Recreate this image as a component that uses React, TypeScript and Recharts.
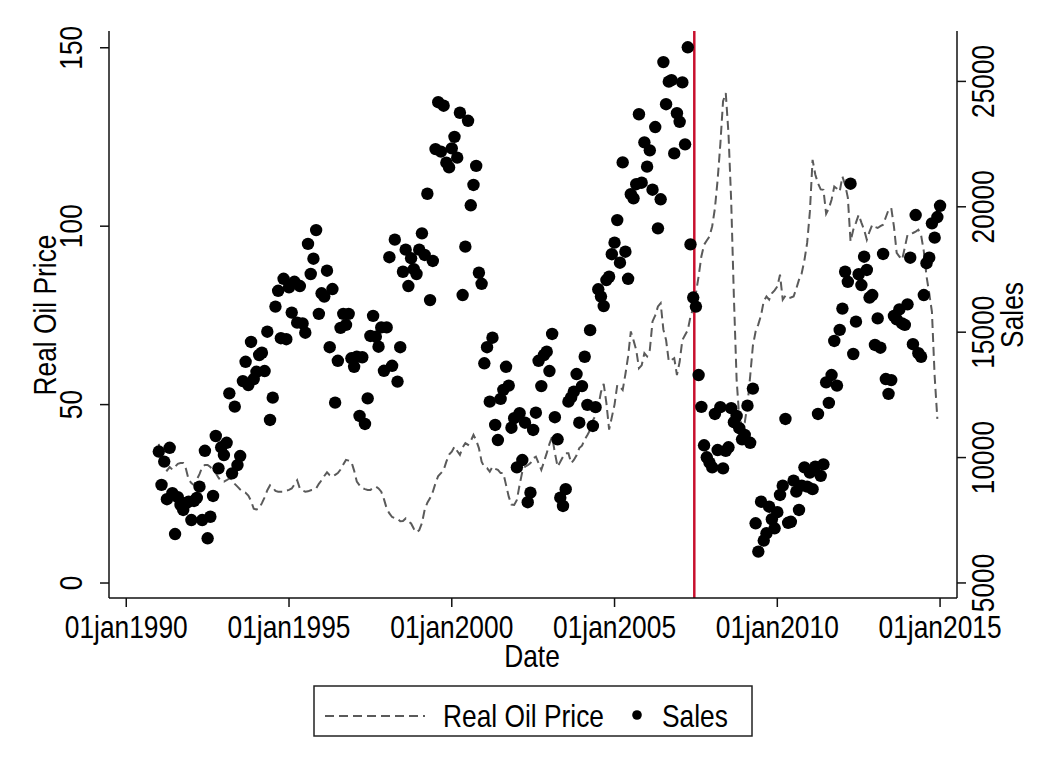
import React from 'react';
import { ComposedChart, Line, Scatter, XAxis, YAxis, ReferenceLine } from 'recharts';

// monthly observations, Jan 1991 onwards
const startYear = 1991;

// real oil price (left axis), Jan 1991 - Dec 2014
const oilPrice: number[] = [
  39.0, 33.5, 32.0, 31.5, 32.5, 31.8, 32.6, 33.4, 33.6, 33.6, 32.0, 29.0,
  28.0, 27.4, 29.0, 30.5, 32.5, 33.1, 33.1, 32.5, 31.5, 30.8, 29.5, 28.6,
  28.4, 28.8, 29.3, 29.0, 27.8, 27.0, 26.2, 25.6, 25.3, 24.5, 23.0, 20.8,
  20.6, 20.9, 22.4, 24.0, 26.0, 27.4, 26.8, 25.8, 25.6, 25.6, 25.6, 25.9,
  26.1, 26.5, 27.6, 28.8, 26.5, 25.9, 25.6, 25.7, 26.0, 26.1, 26.5, 27.8,
  28.8, 30.0, 31.0, 30.2, 29.8, 30.3, 30.8, 31.8, 33.2, 34.5, 34.3, 34.0,
  31.5, 28.4, 27.4, 26.6, 26.3, 26.1, 26.1, 26.6, 27.0, 26.5, 25.6, 23.5,
  20.9, 19.5, 18.5, 18.2, 18.0, 17.3, 17.4, 18.1, 17.3, 16.7, 15.2, 14.2,
  14.8, 16.8, 20.5, 22.5, 23.8, 25.5, 28.0, 30.0, 30.8, 31.7, 34.0, 36.0,
  36.8, 38.2, 37.0, 35.9, 38.0, 39.2, 38.7, 39.8, 41.5, 40.0, 37.8, 34.0,
  32.5, 32.2, 31.2, 32.6, 32.0, 31.7, 30.8, 30.8, 27.5, 24.2, 22.0, 21.9,
  23.3, 27.5, 31.2, 32.6, 33.0, 33.6, 35.0, 35.4, 33.6, 31.7, 34.0, 36.4,
  39.0, 41.0, 36.5, 32.6, 34.0, 35.4, 36.4, 36.4, 33.6, 34.5, 35.8, 37.8,
  38.5, 40.2, 41.5, 42.9, 45.5, 47.0, 49.5, 53.5, 55.8, 50.4, 43.0, 46.5,
  50.0, 55.5, 55.0, 54.1, 58.5, 63.5, 70.5, 68.0, 65.3, 60.2, 61.0, 64.4,
  63.5, 65.3, 73.3, 75.0, 77.5, 78.4, 71.0, 68.1, 62.1, 62.5, 63.0, 58.3,
  62.0, 68.1, 69.5, 70.9, 74.7, 77.0, 81.2, 86.0, 91.5, 94.8, 96.0, 97.1,
  100.0, 105.0, 113.0, 123.0, 135.0, 137.3, 126.0, 107.0, 80.0, 57.0, 46.0, 44.3,
  45.0, 50.0, 58.0, 66.5, 70.5, 72.5, 75.0, 79.0, 80.3, 79.4, 81.2, 82.0,
  83.1, 86.4, 79.4, 80.5, 79.8, 80.0, 80.3, 82.5, 85.0, 86.8, 90.5, 95.3,
  104.0, 118.6, 114.5, 112.0, 110.3, 110.2, 103.5, 105.0, 107.4, 111.1, 110.5, 109.7,
  113.9, 111.6, 108.0, 95.7, 99.0, 101.0, 103.2, 101.0, 99.0, 96.2, 98.5, 100.4,
  99.8, 99.5, 100.0, 100.4, 102.5, 104.6, 105.1, 99.9, 92.5, 91.5, 90.6, 94.0,
  97.6, 97.8, 98.1, 98.5, 99.0, 97.5, 93.0, 86.0, 81.2, 76.0, 58.0, 46.0,
];

// sales (right axis), Jan 1991 - Jan 2015
const sales: number[] = [
  10240, 8910, 9840, 8340, 10390, 8580, 6950, 8420, 8110, 7910, 8180, 8240,
  7510, 8270, 8390, 8840, 7510, 10270, 6780, 7640, 8470, 10860, 9570, 10410,
  10100, 10590, 12560, 9370, 12030, 9700, 10060, 13050, 13820, 12890, 14610, 13130,
  13420, 14090, 14180, 13450, 15020, 11500, 12390, 16020, 16650, 14760, 17130, 14720,
  16790, 15780, 17010, 15380, 16840, 15350, 14980, 18520, 17320, 17930, 19070, 15730,
  16550, 16420, 17450, 14400, 16720, 12190, 13860, 15170, 15730, 15290, 15730, 13960,
  13620, 14020, 11660, 14000, 11340, 12360, 14850, 15650, 14820, 14420, 15190, 13460,
  15190, 17990, 13660, 18690, 13030, 14400, 17410, 18290, 16840, 17950, 17510, 17320,
  18290, 18940, 18080, 20520, 16280, 17840, 22300, 24170, 22200, 24030, 21760, 21570,
  22330, 22790, 21960, 23750, 16480, 18410, 23430, 20060, 20870, 21630, 17370, 16930,
  13760, 14400, 12230, 14780, 11300, 10700, 12340, 12700, 13620, 12870, 11190, 11570,
  9610, 11770, 9900, 11390, 8220, 8600, 11100, 11790, 13860, 12850, 14090, 14220,
  13450, 14930, 11610, 10730, 8400, 8070, 8740, 12230, 12400, 12630, 13330, 11390,
  12850, 14020, 12100, 15080, 11260, 12010, 16710, 16420, 16040, 17080, 17210, 18110,
  18570, 19470, 17770, 21770, 18210, 17130, 20500, 20340, 20900, 23690, 20960, 22570,
  21600, 22250, 20680, 23180, 19140, 20300, 25770, 24090, 24990, 25050, 22130, 23730,
  23390, 24960, 22490, 26360, 18500, 16380, 16020, 13290, 12020, 10490, 10010, 9800,
  9610, 11740, 10300, 12010, 9570, 10270, 10410, 11970, 11410, 11660, 11170, 10730,
  10900, 12070, 10590, 12750, 7380, 6250, 8240, 6690, 6980, 8040, 7540, 7180,
  7820, 8510, 8880, 11540, 7400, 7440, 9080, 8640, 7910, 8880, 9610, 8840,
  9400, 8740, 9640, 11740, 9270, 9730, 13000, 12180, 13290, 14650, 12870, 15090,
  15940, 17410, 17010, 20920, 14130, 15420, 17310, 16880, 18010, 17480, 16380, 16480,
  14490, 15550, 14380, 18120, 13130, 12540, 13090, 15650, 15510, 15910, 15350, 15290,
  16110, 17970, 14520, 19670, 14160, 14020, 16480, 17750, 17970, 19340, 18770, 19590,
  20040,
];

const xTicks = [1990, 1995, 2000, 2005, 2010, 2015];
const oilTicks = [0, 50, 100, 150];
const salesTicks = [5000, 10000, 15000, 20000, 25000];
const breakDate = 2007.45;

const data = sales.map((s, i) => ({
  date: startYear + i / 12,
  sales: s,
  oil: i < oilPrice.length ? oilPrice[i] : null,
}));

// Stata-like narrow sans: squeeze Liberation Sans horizontally
const FONT = '"Liberation Sans", Arial, sans-serif';
const FS = 31;
const SQUEEZE = 0.85;

const NText = ({ x, y, rot = 0, anchor = 'middle', children }: any) => (
  <text
    transform={`translate(${x}, ${y}) rotate(${rot}) scale(${SQUEEZE}, 1)`}
    textAnchor={anchor}
    fontSize={FS}
    fontFamily={FONT}
    fill="#000"
  >
    {children}
  </text>
);

const LeftTick = (props: any) => <NText x={82} y={props.y} rot={-90}>{props.payload.value}</NText>;
const RightTick = (props: any) => <NText x={994} y={props.y} rot={-90}>{props.payload.value}</NText>;
const BottomTick = (props: any) => <NText x={props.x} y={638}>{'01jan' + props.payload.value}</NText>;

const Dot = (props: any) => <circle cx={props.cx} cy={props.cy} r={6.2} fill="#000" />;

const axisLine = { stroke: '#111', strokeWidth: 1.5 };

export default function App() {
  return (
    <div style={{ position: 'absolute', left: 0, top: 0, width: 1047, height: 768, background: '#fff' }}>
      <ComposedChart width={1047} height={768} data={data} margin={{ top: 31, right: 30, bottom: 100, left: 0 }}>
        <XAxis
          dataKey="date"
          type="number"
          domain={[1989.47, 2015.52]}
          allowDataOverflow
          ticks={xTicks}
          interval={0}
          tick={<BottomTick />}
          tickSize={9}
          height={70}
          axisLine={axisLine}
          tickLine={axisLine}
        />
        <YAxis
          yAxisId="left"
          type="number"
          domain={[-4.2, 154.7]}
          allowDataOverflow
          ticks={oilTicks}
          interval={0}
          tick={<LeftTick />}
          tickSize={9}
          width={109}
          axisLine={axisLine}
          tickLine={axisLine}
        />
        <YAxis
          yAxisId="right"
          orientation="right"
          type="number"
          domain={[4400, 27010]}
          allowDataOverflow
          ticks={salesTicks}
          interval={0}
          tick={<RightTick />}
          tickSize={9}
          width={60}
          axisLine={axisLine}
          tickLine={axisLine}
        />
        <Line
          yAxisId="left"
          dataKey="oil"
          type="linear"
          stroke="#5a5a5a"
          strokeWidth={2}
          strokeDasharray="9 5"
          dot={false}
          activeDot={false}
          isAnimationActive={false}
        />
        <Scatter yAxisId="right" dataKey="sales" fill="#000" shape={<Dot />} isAnimationActive={false} />
        <ReferenceLine yAxisId="left" x={breakDate} stroke="#c8102e" strokeWidth={2.5} />
      </ComposedChart>
      <svg width={1047} height={768} style={{ position: 'absolute', left: 0, top: 0, pointerEvents: 'none' }}>
        <NText x={56} y={315} rot={-90}>Real Oil Price</NText>
        <NText x={1023} y={315} rot={-90}>Sales</NText>
        <NText x={532} y={667}>Date</NText>
        <rect x={314} y={686} width={438} height={50} fill="#fff" stroke="#222" strokeWidth={1.5} />
        <line x1={325} y1={716} x2={425} y2={716} stroke="#5a5a5a" strokeWidth={2} strokeDasharray="9 5" />
        <NText x={443} y={727} anchor="start">Real Oil Price</NText>
        <circle cx={637} cy={715} r={4.8} fill="#000" />
        <NText x={662} y={727} anchor="start">Sales</NText>
      </svg>
    </div>
  );
}
